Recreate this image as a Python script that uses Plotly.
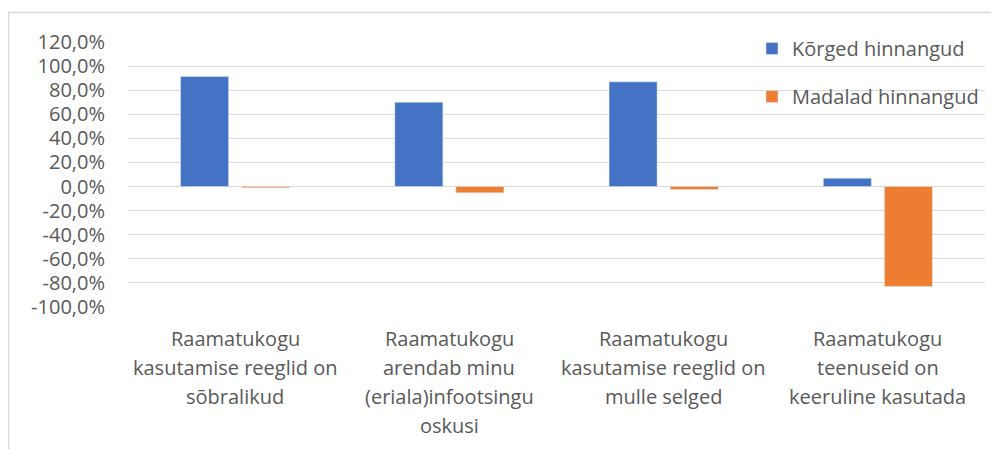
import plotly.graph_objects as go

categories = [
    "Raamatukogu<br>kasutamise reeglid on<br>sõbralikud",
    "Raamatukogu<br>arendab minu<br>(eriala)infootsingu<br>oskusi",
    "Raamatukogu<br>kasutamise reeglid on<br>mulle selged",
    "Raamatukogu<br>teenuseid on<br>keeruline kasutada",
]
series_names = ["Kõrged hinnangud", "Madalad hinnangud"]
korged = [0.913, 0.700, 0.869, 0.069]
madalad = [-0.010, -0.052, -0.025, -0.830]
tick_vals = [1.2, 1.0, 0.8, 0.6, 0.4, 0.2, 0.0, -0.2, -0.4, -0.6, -0.8, -1.0]
tick_text = ["120,0%", "100,0%", "80,0%", "60,0%", "40,0%", "20,0%", "0,0%",
             "-20,0%", "-40,0%", "-60,0%", "-80,0%", "-100,0%"]

FONT = "Open Sans"
TXT = "#595959"
FS = 20

fig = go.Figure()
fig.add_trace(go.Bar(x=list(range(len(categories))), y=korged, name=series_names[0],
                     marker=dict(color="#4472C4"), legendgroup="a"))
fig.add_trace(go.Bar(x=list(range(len(categories))), y=madalad, name=series_names[1],
                     marker=dict(color="#ED7D31"), legendgroup="b"))

OFF = 8  # default page body margin
W, H = 999 - OFF, 449 - OFF
L, R, T, B = 128 - OFF, 14, 42 - OFF, 142
pw = W - L - R
ph = H - T - B

annotations = []
for i, cat in enumerate(categories):
    for j, line in enumerate(cat.split("<br>")):
        annotations.append(dict(
            x=i, y=0, xref="x", yref="paper", text=line, showarrow=False,
            xanchor="center", yanchor="middle", yshift=-(31 + j * 29),
            font=dict(family=FONT, size=FS, color=TXT)))

fig.update_layout(
    width=W, height=H,
    margin=dict(l=L, r=R, t=T, b=B),
    paper_bgcolor="white", plot_bgcolor="white",
    font=dict(family=FONT, size=FS, color=TXT),
    barmode="group", bargap=0.43, bargroupgap=0.213,
    showlegend=True,
    legend=dict(x=(752 - OFF - L) / pw, y=(ph + T - (29 - OFF)) / ph,
                xanchor="left", yanchor="top",
                bgcolor="rgba(0,0,0,0)", tracegroupgap=19,
                font=dict(family=FONT, size=FS, color=TXT)),
    xaxis=dict(range=[-0.5, len(categories) - 0.5], showticklabels=False,
               showgrid=False, zeroline=False, showline=False, ticks=""),
    yaxis=dict(range=[-1.0, 1.2], tickvals=tick_vals, ticktext=tick_text,
               showgrid=True, gridcolor="#d9d9d9", gridwidth=1,
               zeroline=True, zerolinecolor="#d9d9d9", zerolinewidth=1,
               showline=False, ticks="", ticklabelstandoff=22,
               tickfont=dict(family=FONT, size=FS, color=TXT)),
    annotations=annotations,
    shapes=[dict(type="rect", xref="paper", yref="paper",
                 x0=(8.5 - OFF - L) / pw, x1=1.5, y0=-1.0,
                 y1=(ph + T - (12.5 - OFF)) / ph,
                 line=dict(color="#d9d9d9", width=1.5), fillcolor="rgba(0,0,0,0)",
                 layer="below")],
)

fig.write_html("out.html")
